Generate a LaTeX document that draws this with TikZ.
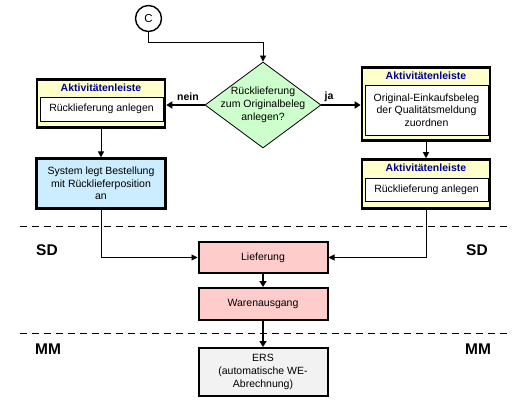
\documentclass[tikz,border=0pt]{standalone}
\usepackage{fontspec}
\setmainfont{Liberation Sans}
\usetikzlibrary{shapes.geometric,arrows.meta,calc}
\definecolor{yel}{HTML}{FFFFCC}
\definecolor{grn}{HTML}{CCFFCC}
\definecolor{blu}{HTML}{CCECFF}
\definecolor{pnk}{HTML}{FFCCCC}
\definecolor{gry}{HTML}{F2F2F2}
\definecolor{navy}{HTML}{000099}
\tikzset{
  outerbox/.style={draw, line width=2.6pt, fill=yel, minimum width=128pt, inner sep=0pt},
  innerbox/.style={draw, line width=0.8pt, fill=white, minimum width=123pt, inner sep=0pt, align=center, font=\fontsize{10.5}{12.5}\selectfont},
  titletext/.style={font=\bfseries\fontsize{10.5}{12}\selectfont, text=navy, inner sep=0pt},
  procbox/.style={draw, line width=2pt, minimum width=129pt, inner sep=0pt, align=center, font=\fontsize{10.5}{12.5}\selectfont},
  conn/.style={line width=0.8pt, -{Triangle[length=6pt,width=6pt]}},
  thickconn/.style={line width=2pt, -{Triangle[length=6pt,width=7pt]}},
  lbl/.style={font=\bfseries\fontsize{10.5}{12}\selectfont, inner sep=0pt},
  area/.style={font=\bfseries\fontsize{15.5}{18}\selectfont, inner sep=0pt},
  sep/.style={line width=0.8pt, dash pattern=on 7pt off 5pt},
}
\begin{document}
\begin{tikzpicture}[x=1pt,y=-1pt]
\useasboundingbox (0,0) rectangle (523,404);

% start connector
\node (C) [circle, draw, line width=1.4pt, minimum size=26pt, inner sep=0pt, font=\fontsize{11.5}{12}\selectfont] at (148.5,18.5) {C};

% decision
\node (dec) [diamond, draw, line width=0.8pt, fill=grn, minimum width=116pt, minimum height=86pt, inner sep=0pt] at (263,105) {};
\node (dectext) [align=center, font=\fontsize{10.5}{13}\selectfont, inner sep=0pt] at (263,105) {Rücklieferung\\zum Originalbeleg\\anlegen?};

% left activity box
\node (ly) [outerbox, minimum height=48pt] at (101,103.5) {};
\node (lyt) [titletext] at (101,88) {Aktivitätenleiste};
\node (lyi) [innerbox, minimum height=24pt] at (101.5,109) {Rücklieferung anlegen};

% blue system box
\node (sys) [procbox, fill=blu, minimum height=50pt, line width=2.2pt] at (101,183.5) {System legt Bestellung\\mit Rücklieferposition\\an};

% right activity box 1
\node (ry1) [outerbox, minimum height=73pt] at (426,104) {};
\node (ry1t) [titletext] at (426,76) {Aktivitätenleiste};
\node (ry1i) [innerbox, minimum height=50pt] at (426.5,110) {Original-Einkaufsbeleg\\der Qualitätsmeldung\\zuordnen};

% right activity box 2
\node (ry2) [outerbox, minimum height=49pt] at (426,184) {};
\node (ry2t) [titletext] at (426,168) {Aktivitätenleiste};
\node (ry2i) [innerbox, minimum height=23pt] at (426.5,189.5) {Rücklieferung anlegen};

% SD / MM process boxes
\node (lief) [procbox, fill=pnk, minimum height=31pt] at (263,257.5) {Lieferung};
\node (ware) [procbox, fill=pnk, minimum height=32pt] at (263,304) {Warenausgang};
\node (ers) [procbox, fill=gry, minimum height=48pt, font=\fontsize{10.5}{13}\selectfont] at (263,372) {ERS\\(automatische WE-\\Abrechnung)};

% separators
\draw[sep] (20,226) -- (508,226);
\draw[sep] (20,333) -- (508,333);

% area labels
\node (sdl) [area] at (47,250) {SD};
\node (sdr) [area] at (477,250) {SD};
\node (mml) [area] at (48,349) {MM};
\node (mmr) [area] at (478,349) {MM};

% connectors
\coordinate (j1) at (263,42);
\draw[conn] (C.south) |- (j1) -- (dec.north);
\draw[thickconn] (dec.west) -- (dec.west -| ly.east);
\draw[thickconn] (dec.east) -- (dec.east -| ry1.west);
\node (nein) [lbl] at (188,97) {nein};
\node (ja) [lbl] at (329,97) {ja};
\draw[conn] (ly.south) -- (sys.north);
\draw[conn] (ry1.south) -- (ry2.north);
\draw[conn] (sys.south) |- (lief.west);
\draw[conn] (ry2.south) |- (lief.east);
\draw[thickconn] (lief.south) -- (ware.north);
\draw[thickconn] (ware.south) -- (ers.north);
\end{tikzpicture}
\end{document}
